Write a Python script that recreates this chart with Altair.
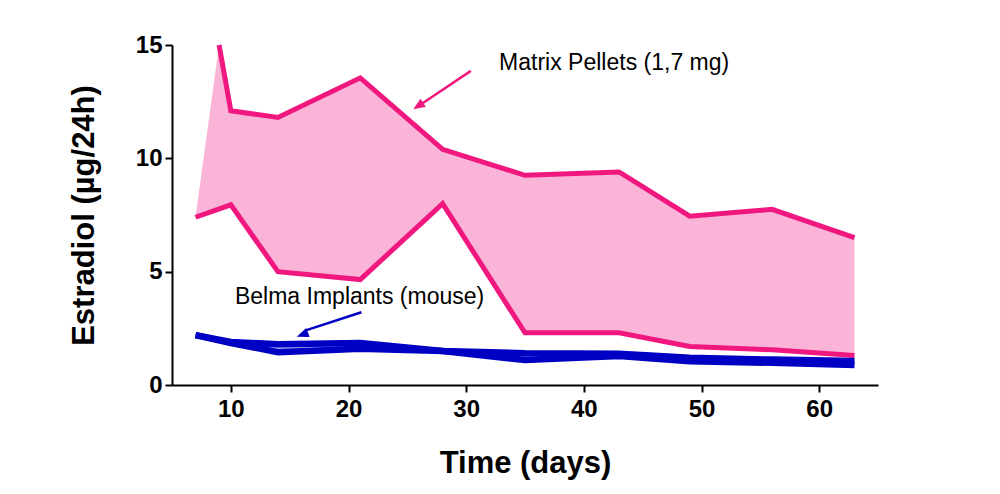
import altair as alt
import pandas as pd
import numpy as np

# ---- data ----
pink_hi_days = [9, 10, 14, 21, 28, 35, 43, 49, 56, 63]
pink_hi = [15.0, 12.1, 11.8, 13.55, 10.4, 9.25, 9.4, 7.45, 7.75, 6.5]
pink_lo_days = [7, 10, 14, 21, 28, 35, 43, 49, 56, 63]
pink_lo = [7.4, 7.95, 5.0, 4.65, 8.0, 2.3, 2.3, 1.7, 1.55, 1.3]

blue_days = [7, 10, 14, 21, 28, 35, 43, 49, 56, 63]
blue_hi = [2.2, 1.9, 1.8, 1.85, 1.5, 1.4, 1.38, 1.2, 1.12, 1.06]
blue_lo = [2.2, 1.85, 1.45, 1.6, 1.5, 1.1, 1.28, 1.05, 0.98, 0.88]

PINK = "#F0187F"
PINK_FILL = "#FAB4D7"
BLUE = "#0000C4"
BLUE_FILL = "#A8AEF0"
FONT = "Liberation Sans"

# fill polygon between the two pink series (straight edge from first low point to first high point)
fill_days = sorted(set(pink_hi_days) | set(pink_lo_days))
fill_df = pd.DataFrame({
    "day": fill_days,
    "lo": np.interp(fill_days, pink_lo_days, pink_lo),
    "hi": np.interp(fill_days, [pink_lo_days[0]] + pink_hi_days, [pink_lo[0]] + pink_hi),
})

pink_lines = pd.concat([
    pd.DataFrame({"day": pink_hi_days, "v": pink_hi, "s": "hi"}),
    pd.DataFrame({"day": pink_lo_days, "v": pink_lo, "s": "lo"}),
])
blue_area_df = pd.DataFrame({"day": blue_days, "lo": blue_lo, "hi": blue_hi})
blue_lines = pd.concat([
    pd.DataFrame({"day": blue_days, "v": blue_hi, "s": "hi"}),
    pd.DataFrame({"day": blue_days, "v": blue_lo, "s": "lo"}),
])

xscale = alt.Scale(domain=[5, 65], nice=False, zero=False)
yscale = alt.Scale(domain=[0, 15], nice=False)

axis_common = dict(
    grid=False, domainColor="black", domainWidth=2, tickColor="black", tickWidth=2,
    tickSize=7, labelFont=FONT, labelFontWeight="bold", labelColor="black",
    titleFont=FONT, titleFontWeight="bold", titleColor="black", titleFontSize=31,
)

xaxis = alt.Axis(values=[10, 20, 30, 40, 50, 60], labelFontSize=24, labelPadding=5,
                 title="Time (days)", titleY=78, titleBaseline="middle", **axis_common)
yaxis = alt.Axis(values=[0, 5, 10, 15], labelFontSize=24, labelPadding=3,
                 title="Estradiol (µg/24h)", titleX=-88, titleY=170, titleAngle=270,
                 titleAlign="center", titleBaseline="middle", **axis_common)

pink_area = alt.Chart(fill_df).mark_area(color=PINK_FILL, opacity=1).encode(
    x=alt.X("day:Q", scale=xscale, axis=xaxis),
    y=alt.Y("lo:Q", scale=yscale, axis=yaxis),
    y2="hi:Q",
)
blue_area = alt.Chart(blue_area_df).mark_area(color=BLUE_FILL, opacity=1).encode(
    x="day:Q", y="lo:Q", y2="hi:Q",
)
pink_line = alt.Chart(pink_lines).mark_line(color=PINK, strokeWidth=5).encode(
    x="day:Q", y="v:Q", detail="s:N",
)
blue_line = alt.Chart(blue_lines).mark_line(color=BLUE, strokeWidth=6.5).encode(
    x="day:Q", y="v:Q", detail="s:N",
)

one = pd.DataFrame({"a": [0]})
ARROW = "M0,0 L-0.8,2 L0.8,2 Z"

pink_text = alt.Chart(one).mark_text(
    text="Matrix Pellets (1,7 mg)", align="left", baseline="middle",
    font=FONT, fontSize=23, color="black"
).encode(x=alt.datum(32.8), y=alt.datum(14.2))
pink_shaft = alt.Chart(one).mark_rule(color=PINK, strokeWidth=2.5).encode(
    x=alt.datum(30.4), y=alt.datum(13.86), x2=alt.datum(26.2), y2=alt.datum(12.4)
)
pink_head = alt.Chart(one).mark_point(
    shape=ARROW, filled=True, color=PINK, opacity=1, size=144, angle=236, strokeWidth=0
).encode(x=alt.datum(25.5), y=alt.datum(12.16))

blue_text = alt.Chart(one).mark_text(
    text="Belma Implants (mouse)", align="left", baseline="middle",
    font=FONT, fontSize=23, color="black"
).encode(x=alt.datum(10.35), y=alt.datum(3.9))
blue_shaft = alt.Chart(one).mark_rule(color=BLUE, strokeWidth=2.5).encode(
    x=alt.datum(21.1), y=alt.datum(3.21), x2=alt.datum(16.3), y2=alt.datum(2.4)
)
blue_head = alt.Chart(one).mark_point(
    shape=ARROW, filled=True, color=BLUE, opacity=1, size=144, angle=249, strokeWidth=0
).encode(x=alt.datum(15.6), y=alt.datum(2.13))

chart = alt.layer(
    pink_area, blue_area, pink_line, blue_line,
    pink_shaft, pink_head, pink_text, blue_shaft, blue_head, blue_text,
).properties(
    width=706, height=340,
    autosize=alt.AutoSizeParams(type="none"),
    padding={"left": 164, "top": 37, "right": 114, "bottom": 100},
    background="white",
).configure_view(stroke=None)

chart.save("out.html", embed_options={"renderer": "svg", "actions": False})
